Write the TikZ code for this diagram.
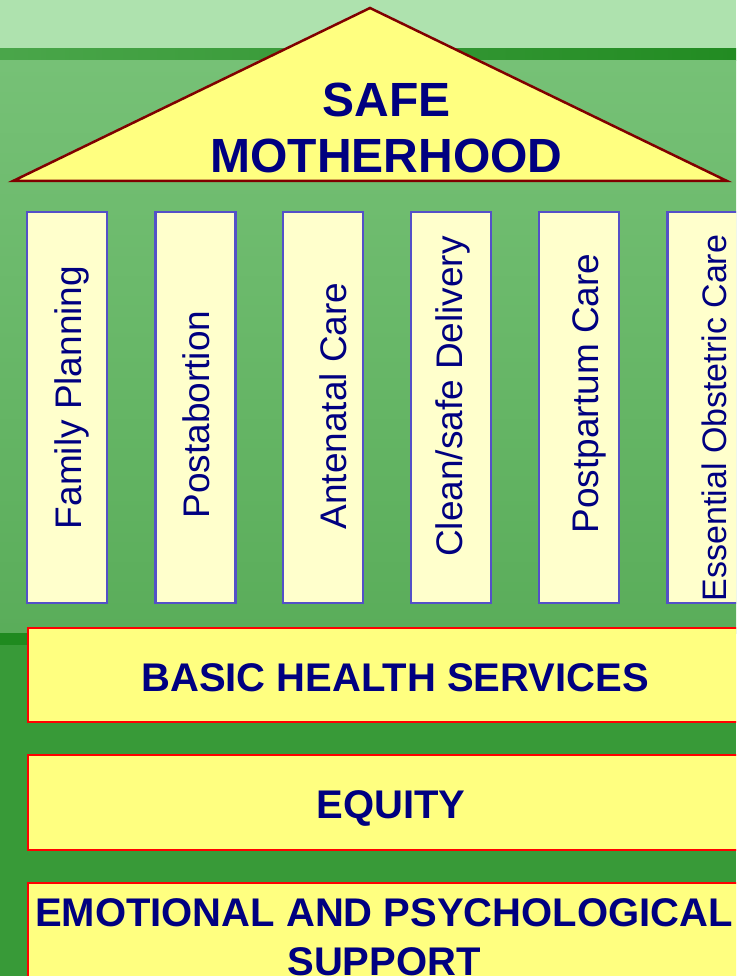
\documentclass[tikz,border=0pt]{standalone}
\usepackage{fontspec}
\setmainfont{Liberation Sans}
\usetikzlibrary{positioning,calc}

\definecolor{navytext}{RGB}{0,0,128}
\definecolor{topgreen}{RGB}{174,226,174}
\definecolor{midgreen}{RGB}{118,193,118}
\definecolor{lowmidgreen}{RGB}{90,173,90}
\definecolor{stripleft}{RGB}{74,166,74}
\definecolor{stripright}{RGB}{34,139,34}
\definecolor{basegreen}{RGB}{56,154,56}
\definecolor{darkstrip}{RGB}{31,138,31}
\definecolor{roofred}{RGB}{128,0,0}
\definecolor{roofyellow}{RGB}{255,255,128}
\definecolor{pillarblue}{RGB}{84,80,200}
\definecolor{pillarfill}{RGB}{255,255,204}

\begin{document}
\begin{tikzpicture}[x=1pt,y=-1pt]
\tikzstyle{pillar} = [draw=pillarblue,fill=pillarfill,line width=2.5pt,shape=rectangle,minimum width=80pt,minimum height=391pt,inner sep=0pt]
\tikzstyle{plabel} = [rotate=90,anchor=base,inner sep=0pt,text=navytext,font=\fontsize{37}{40}\selectfont]
\tikzstyle{band} = [draw=red,fill=roofyellow,line width=2.5pt,shape=rectangle,inner sep=0pt,text=navytext,font=\bfseries\fontsize{40}{49}\selectfont]
\tikzstyle{roof} = [draw=roofred,fill=roofyellow,line width=2.5pt,line join=miter]
\clip (0,0) rectangle (736,976);
% background
\fill[topgreen] (0,0) rectangle (736,49);
\shade[left color=stripleft,right color=stripright] (0,49) rectangle (736,61);
\shade[top color=midgreen,bottom color=lowmidgreen] (0,61) rectangle (736,633);
\fill[darkstrip] (0,633) rectangle (736,645);
\fill[basegreen] (0,645) rectangle (736,976);
% roof
\coordinate (apex) at (370,8);
\coordinate (eaveL) at (13,181);
\coordinate (eaveR) at (727,181);
\draw[roof] (apex) -- (eaveL) -- (eaveR) -- cycle;
\node[align=center,inner sep=0pt,text=navytext,font=\bfseries\fontsize{48}{56}\selectfont] (title) at (386.5,128) {SAFE\\MOTHERHOOD};
% pillars
\node[pillar] (fp) at (67,407.5) {};
\node[pillar] (pa) at (195.5,407.5) {};
\node[pillar] (ac) at (323,407.5) {};
\node[pillar] (cd) at (451,407.5) {};
\node[pillar] (pc) at (579,407.5) {};
\node[pillar] (eo) at (707.5,407.5) {};
\node[plabel] (fpt) at ($(fp.center)+(14,-10)$) {Family Planning};
\node[plabel] (pat) at ($(pa.center)+(14,7)$) {Postabortion};
\node[plabel] (act) at ($(ac.center)+(23,-1.5)$) {Antenatal Care};
\node[plabel] (cdt) at ($(cd.center)+(11,-11)$) {Clean/safe Delivery};
\node[plabel] (pct) at ($(pc.center)+(19,-14)$) {Postpartum Care};
\node[plabel,font=\fontsize{34}{38}\selectfont] (eot) at ($(eo.center)+(19,10.5)$) {Essential Obstetric Care};
% foundation
\node[band,minimum width=734pt,minimum height=94pt,text height=32pt,text depth=0pt] (bhs) at (395,675) {BASIC HEALTH SERVICES};
\node[band,minimum width=726pt,minimum height=95pt,text height=32pt,text depth=0pt] (eq) at (391,802.5) {EQUITY};
\node[band,minimum width=712pt,minimum height=108pt,align=center] (eps) at (384,937) {EMOTIONAL AND PSYCHOLOGICAL\\SUPPORT};
\end{tikzpicture}
\end{document}
